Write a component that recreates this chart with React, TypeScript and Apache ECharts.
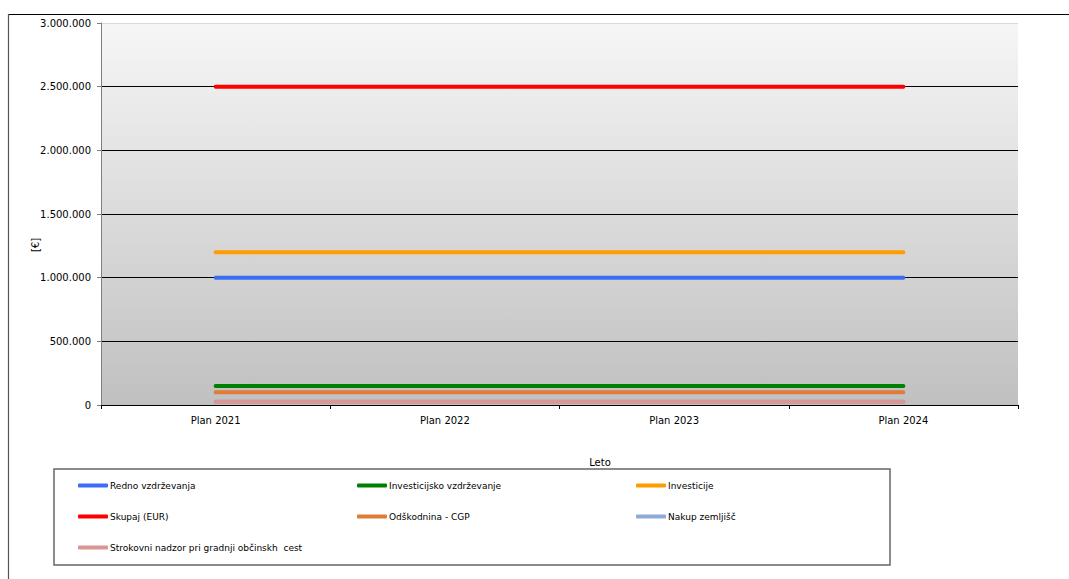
import React, { useEffect, useRef } from "react";
import * as echarts from "echarts";

const categories = ["Plan 2021", "Plan 2022", "Plan 2023", "Plan 2024"];
const rednoVzdrzevanja = [1000000, 1000000, 1000000, 1000000];
const investicijskoVzdrzevanje = [150000, 150000, 150000, 150000];
const investicije = [1200000, 1200000, 1200000, 1200000];
const skupaj = [2500000, 2500000, 2500000, 2500000];
const odskodnina = [100000, 100000, 100000, 100000];
const nakupZemljisc = [25000, 25000, 25000, 25000];
const strokovniNadzor = [25000, 25000, 25000, 25000];

const seriesDefs = [
  { name: "Redno vzdrževanja", data: rednoVzdrzevanja, color: "#3d6df5" },
  { name: "Investicijsko vzdrževanje", data: investicijskoVzdrzevanje, color: "#008000" },
  { name: "Investicije", data: investicije, color: "#ff9c00" },
  { name: "Skupaj (EUR)", data: skupaj, color: "#ff0000" },
  { name: "Odškodnina - CGP", data: odskodnina, color: "#e07b39" },
  { name: "Nakup zemljišč", data: nakupZemljisc, color: "#8eaad8" },
  { name: "Strokovni nadzor pri gradnji občinskh  cest", data: strokovniNadzor, color: "#d99694" },
];

const FONT = "DejaVu Sans, Verdana, sans-serif";

function fmt(v: number): string {
  return String(Math.round(v)).replace(/\B(?=(\d{3})+(?!\d))/g, ".");
}

export default function App() {
  const ref = useRef<HTMLDivElement>(null);
  useEffect(() => {
    if (!ref.current) return;
    const chart = echarts.init(ref.current, undefined, { renderer: "svg" });
    chart.setOption({
      animation: false,
      backgroundColor: "#ffffff",
      textStyle: { fontFamily: FONT },
      grid: {
        left: 101,
        right: 51,
        top: 23,
        bottom: 174,
        show: true,
        borderWidth: 0,
        backgroundColor: new echarts.graphic.LinearGradient(0, 0, 0, 1, [
          { offset: 0, color: "#f6f6f6" },
          { offset: 1, color: "#c0c0c0" },
        ]),
      },
      xAxis: {
        type: "category",
        data: categories,
        boundaryGap: true,
        axisLine: { show: true, lineStyle: { color: "#000", width: 1 } },
        axisTick: { show: true, alignWithLabel: false, length: 4, lineStyle: { color: "#000" } },
        axisLabel: { color: "#000", fontSize: 10, fontFamily: FONT, margin: 10 },
        splitLine: { show: false },
      },
      yAxis: {
        type: "value",
        min: 0,
        max: 3000000,
        interval: 500000,
        axisLine: { show: true, lineStyle: { color: "#808080", width: 1 } },
        axisTick: { show: true, length: 4, lineStyle: { color: "#808080" } },
        axisLabel: {
          color: "#000",
          fontSize: 10,
          fontFamily: FONT,
          margin: 10,
          formatter: (v: number) => fmt(v),
        },
        splitLine: {
          show: true,
          lineStyle: {
            color: ["#000", "#000", "#000", "#000", "#000", "#000", "#d9d9d9"],
            width: 1,
          },
        },
      },
      legend: {
        left: 78,
        top: 475,
        width: 840,
        padding: 0,
        itemWidth: 30,
        itemHeight: 4,
        itemGap: 10,
        icon: "roundRect",
        selectedMode: false,
        textStyle: {
          fontFamily: FONT,
          fontSize: 9,
          color: "#000",
          width: 237,
          lineHeight: 21,
          overflow: "none",
          padding: [0, 0, 0, -3],
        },
        data: seriesDefs.map((s) => s.name),
      },
      graphic: [
        {
          type: "line",
          shape: { x1: 8, y1: 14.5, x2: 1069, y2: 14.5 },
          style: { stroke: "#000", lineWidth: 1 },
          silent: true,
        },
        {
          type: "line",
          shape: { x1: 8.5, y1: 14, x2: 8.5, y2: 579 },
          style: { stroke: "#555", lineWidth: 1.2 },
          silent: true,
        },
        {
          type: "rect",
          shape: { x: 54, y: 469, width: 836, height: 96 },
          style: { fill: "none", stroke: "#666", lineWidth: 1.5 },
          silent: true,
          z: -1,
        },
        {
          type: "text",
          x: 600,
          y: 462,
          style: {
            text: "Leto",
            fontSize: 10,
            fontFamily: FONT,
            fill: "#000",
            align: "center",
            verticalAlign: "middle",
          },
          silent: true,
        },
        {
          type: "text",
          x: 35,
          y: 245,
          rotation: Math.PI / 2,
          style: {
            text: "[€]",
            fontSize: 10,
            fontFamily: FONT,
            fill: "#000",
            align: "center",
            verticalAlign: "middle",
          },
          silent: true,
        },
      ],
      series: seriesDefs.map((s) => ({
        name: s.name,
        type: "line",
        data: s.data,
        color: s.color,
        symbol: "none",
        lineStyle: { color: s.color, width: 4, cap: "round" },
        itemStyle: { color: s.color },
      })),
    });
    return () => chart.dispose();
  }, []);
  return (
    <div
      ref={ref}
      style={{ position: "fixed", left: 0, top: 0, width: 1069, height: 579 }}
    />
  );
}
